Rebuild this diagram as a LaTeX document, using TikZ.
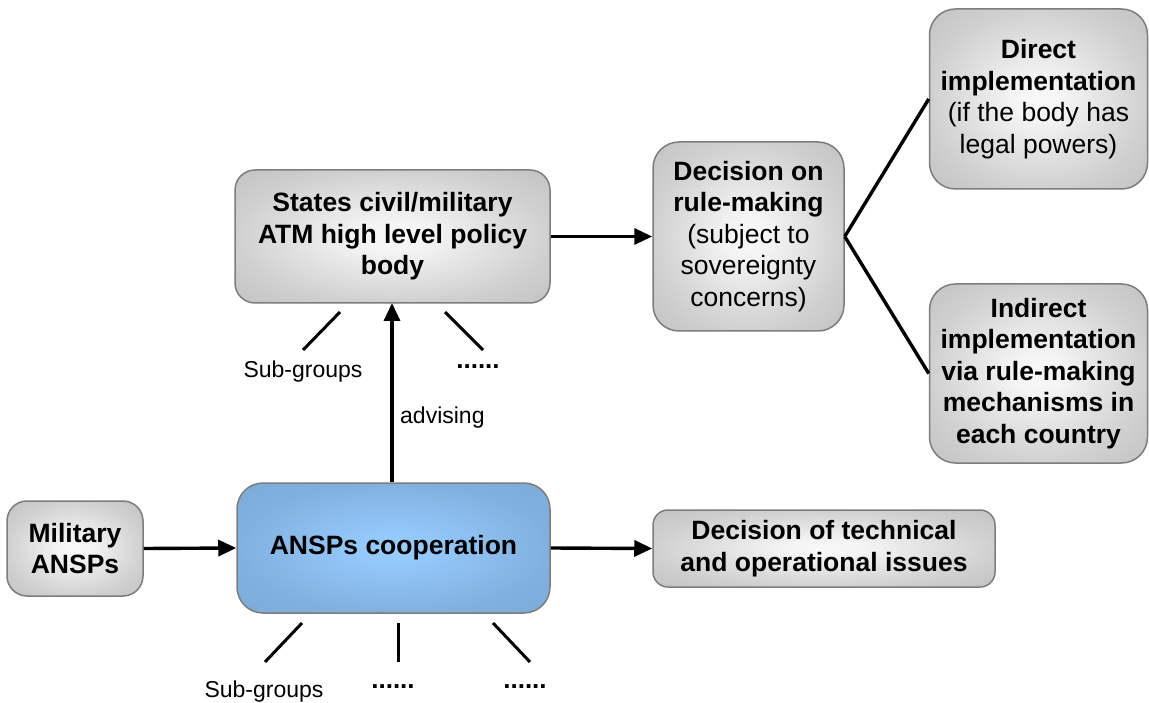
\documentclass[tikz,border=0pt]{standalone}
\usepackage{fontspec}
\setmainfont{Liberation Sans}
\usetikzlibrary{arrows.meta}
\definecolor{edgegrey}{RGB}{125,125,125}
\pgfdeclareradialshading{greyshade}{\pgfpoint{0bp}{0bp}}{%
  rgb(0bp)=(0.975,0.975,0.975); rgb(6bp)=(0.955,0.955,0.955); rgb(25bp)=(0.815,0.815,0.815); rgb(36bp)=(0.76,0.76,0.76); rgb(50bp)=(0.76,0.76,0.76)}
\pgfdeclareradialshading{blueshade}{\pgfpoint{0bp}{0bp}}{%
  rgb(0bp)=(0.60,0.80,1.0); rgb(6bp)=(0.58,0.785,0.985); rgb(25bp)=(0.51,0.69,0.87); rgb(36bp)=(0.49,0.67,0.85); rgb(50bp)=(0.49,0.67,0.85)}
\tikzset{
  box/.style={draw=edgegrey, line width=1.5pt, shading=greyshade,
    align=center, inner sep=0pt, font=\fontsize{26.5}{31.5}\selectfont\bfseries},
  bluebox/.style={box, shading=blueshade},
  conn/.style={line width=3.4pt, -{Triangle[length=18pt,width=16pt]}},
  plainconn/.style={line width=3.4pt},
  subline/.style={line width=3pt},
  lbl/.style={font=\fontsize{23}{27}\selectfont, inner sep=0pt},
  dots/.style={font=\fontsize{26}{30}\selectfont\bfseries, inner sep=0pt}
}
\begin{document}
\begin{tikzpicture}[x=1pt,y=-1pt]
\useasboundingbox (0,0) rectangle (1149,703);
% boxes
\node[box, minimum width=315pt, minimum height=133pt, rounded corners=20pt] (policy) at (392.5,236.5)
  {States civil/military\\ATM high level policy\\body};
\node[box, minimum width=191pt, minimum height=189pt, rounded corners=26pt] (decision) at (748.5,236.5)
  {Decision on\\rule-making\\\mdseries(subject to\\\mdseries sovereignty\\\mdseries concerns)};
\node[box, minimum width=218pt, minimum height=180pt, rounded corners=26pt] (direct) at (1038.5,99)
  {Direct\\implementation\\\mdseries(if the body has\\\mdseries legal powers)};
\node[box, minimum width=218pt, minimum height=179pt, rounded corners=26pt] (indirect) at (1038.5,373.5)
  {Indirect\\implementation\\via rule-making\\mechanisms in\\each country};
\node[bluebox, minimum width=313pt, minimum height=130pt, rounded corners=26pt] (ansps) at (393.5,548)
  {ANSPs cooperation};
\node[box, minimum width=136pt, minimum height=95pt, rounded corners=20pt] (military) at (75,548.5)
  {Military\\ANSPs};
\node[box, minimum width=342pt, minimum height=77pt, rounded corners=15pt] (techdec) at (824,548.5)
  {Decision of technical\\and operational issues};
% connectors
\draw[conn] (policy.east) -- (decision.west);
\draw[plainconn] (decision.east) -- (direct.west);
\draw[plainconn] (decision.east) -- (indirect.west);
\draw[conn] (military.east) -- (ansps.west);
\draw[conn] (ansps.east) -- (techdec.west);
\coordinate (advtop) at (392,303);
\draw[conn] (ansps.north -| advtop) -- (advtop);
\node[lbl, anchor=west] (advising) at (400,418) {advising};
% sub-groups of policy body
\coordinate (pa1) at (340,312); \coordinate (pa2) at (303,350);
\coordinate (pb1) at (445,312); \coordinate (pb2) at (483,350);
\draw[subline] (pa1) -- (pa2);
\draw[subline] (pb1) -- (pb2);
\node[lbl] (psub) at (303,372) {Sub-groups};
\node[dots] (pdots) at (478,367) {......};
% sub-groups of ANSPs cooperation
\coordinate (qa1) at (302,623); \coordinate (qa2) at (265,662);
\coordinate (qb1) at (398,623); \coordinate (qb2) at (398,662);
\coordinate (qc1) at (493,623); \coordinate (qc2) at (530,662);
\draw[subline] (qa1) -- (qa2);
\draw[subline] (qb1) -- (qb2);
\draw[subline] (qc1) -- (qc2);
\node[lbl] (qsub) at (264,692) {Sub-groups};
\node[dots] (qdots1) at (393,687) {......};
\node[dots] (qdots2) at (525,687) {......};
\end{tikzpicture}
\end{document}
